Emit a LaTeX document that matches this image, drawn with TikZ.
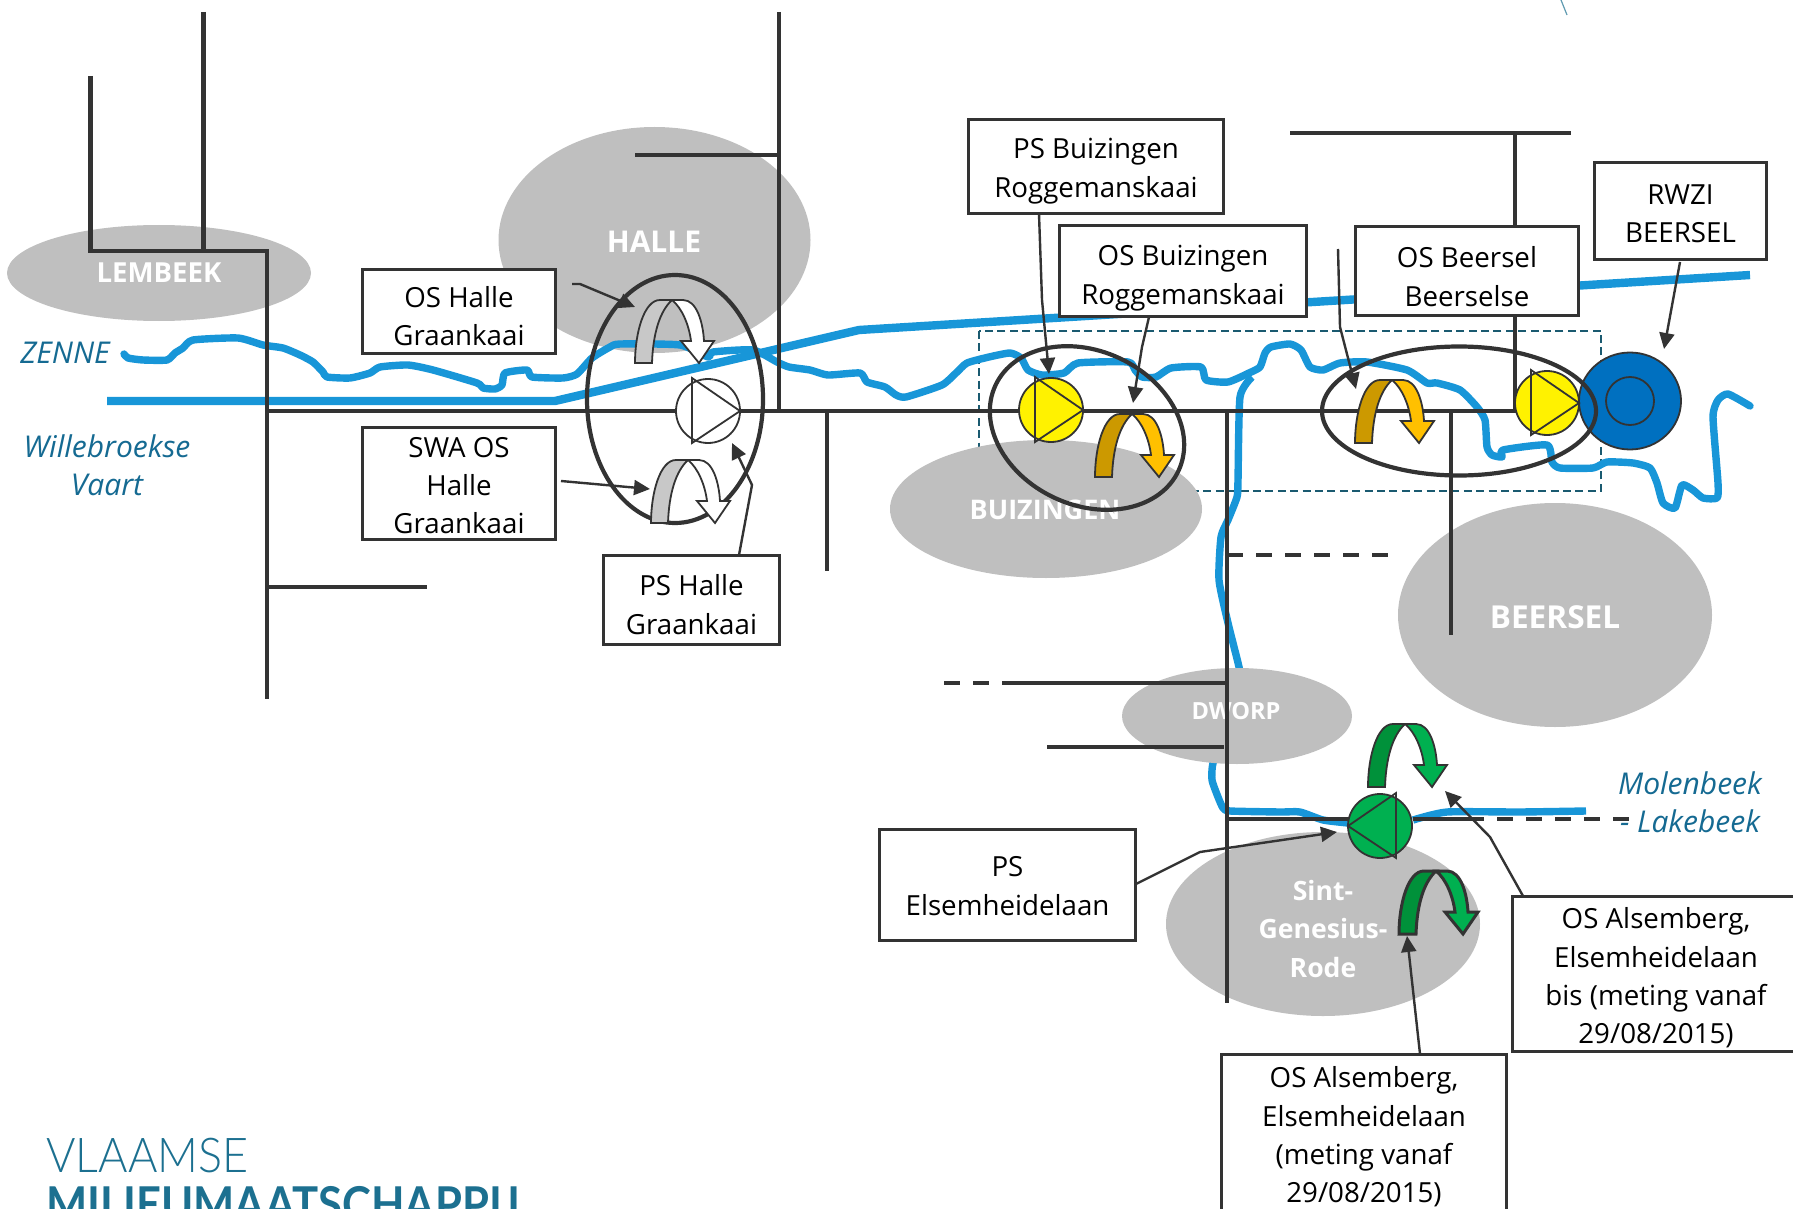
\documentclass[tikz,border=0pt]{standalone}
\usepackage{fontspec}
\setmainfont{Open Sans}
\newfontfamily\logolight{Lato Light}
\newfontfamily\logobold{Lato}[BoldFont={Lato Bold}]
\usetikzlibrary{arrows.meta}
\definecolor{riverblue}{HTML}{1896D8}
\definecolor{ink}{HTML}{333333}
\definecolor{zonegrey}{HTML}{BFBFBF}
\definecolor{labelblue}{HTML}{156A92}
\definecolor{dashteal}{HTML}{1A5A70}
\definecolor{logoteal}{HTML}{1C7090}
\definecolor{rwziblue}{HTML}{0070C0}
\definecolor{orangeD}{HTML}{CC9900}
\definecolor{orangeL}{HTML}{FFC000}
\definecolor{greenD}{HTML}{00913A}
\definecolor{greenL}{HTML}{00B050}
\definecolor{greyD}{HTML}{C8C8C8}
\tikzset{
 zone/.style={fill=zonegrey,draw=none},
 zonetext/.style={text=white,align=center,inner sep=0pt},
 pipe/.style={draw=ink,line width=2.3pt},
 pipedash/.style={pipe,dash pattern=on 8pt off 6.5pt},
 river/.style={draw=riverblue,line width=3.7pt,line join=round,line cap=round},
 canal/.style={draw=riverblue,line width=4.2pt},
 blackring/.style={draw=ink,line width=2.1pt},
 labelbox/.style={draw=ink,fill=white,line width=1.3pt,inner sep=0pt},
 boxtext/.style={inner sep=0pt,align=center,text=black,font=\fontsize{13.85}{19.2}\selectfont},
 leader/.style={draw=ink,line width=1.2pt,-{Triangle[length=8pt,width=7.5pt]}},
 uline/.style={draw=ink,line width=0.9pt,line join=miter},
 watertext/.style={text=labelblue,font=\itshape\fontsize{15}{19.2}\selectfont,align=center,inner sep=0pt},
}
\newcommand\uturn[5]{%
 \begin{scope}[shift={(#1)},uline/.append style={line width=#4pt}]
 \filldraw[uline,fill=#2] (0,0) -- (17,0) .. controls (18,-30) and (25,-52) .. (37,-63) -- (25,-63) .. controls (9,-63) and (0,-30) .. (0,0) -- cycle;
 \filldraw[uline,fill=#3] (37,-63) -- (48,-63) .. controls (62,-63) and (68,-40) .. (69,-22) -- (79,-22) -- (64,0) -- (46,-22) -- (56,-22) .. controls (54,-38) and (47,-55) .. (37,-63) -- cycle;
 \end{scope}}
\newcommand\pump[3]{%
 \begin{scope}[shift={(#1)}]
 \filldraw[uline,fill=#2] (0,0) circle [radius=32];
 \draw[uline,line join=miter] (-16*#3,-33) -- (-16*#3,32) -- (32*#3,0) -- cycle;
 \end{scope}}
\newcommand\bx[7]{\node[labelbox,minimum width=(#4-1)*0.5pt,minimum height=(#5-1)*0.5pt,label={[boxtext,yshift=-#7*0.5pt]center:{#6}}] (#1) at (#2,#3) {};}
\begin{document}
\begin{tikzpicture}[x=0.5pt,y=-0.5pt]
\useasboundingbox (0,0) rectangle (1793,1209);
\begin{scope}
\clip (0,0) rectangle (1793,1209);
% dashed zone
\draw[dashteal,line width=0.95pt,dash pattern=on 4pt off 2.2pt] (979,331) rectangle (1601,491);
% grey zones
\fill[zone] (159,273) ellipse [x radius=152,y radius=48];
\fill[zone] (654.5,240) ellipse [x radius=156,y radius=113];
\fill[zone] (1046,509) ellipse [x radius=156,y radius=69];
\fill[zone] (1555,615) ellipse [x radius=157,y radius=112];
\fill[zone] (1323,924) ellipse [x radius=157,y radius=92];
\node[zonetext,font=\bfseries\fontsize{13.8}{19}\selectfont] (lembeek) at (159,273) {LEMBEEK};
\node[zonetext,font=\bfseries\fontsize{15}{19}\selectfont] (halle) at (654,242) {HALLE};
\node[zonetext,font=\bfseries\fontsize{13.5}{19}\selectfont] (buizingen) at (1045,510) {BUIZINGEN};
\node[zonetext,font=\bfseries\fontsize{15.8}{19}\selectfont] (beersel) at (1555,617) {BEERSEL};
\node[zonetext,font=\bfseries\fontsize{13.3}{19.2}\selectfont] (sgr) at (1323,929) {Sint-\\Genesius-\\Rode};
% water
\draw[canal] (107,401) -- (555,401) -- (859,330) -- (1750,275);
\draw[river] plot[smooth,tension=0.35] coordinates {(124,354) (128,358) (143,360) (167,360) (175,353) (183,348) (193,340) (238,338) (263,345) (283,348) (300,355) (313,362) (323,372) (327,377) (350,378) (370,373) (380,367) (408,365) (433,370) (477,383) (483,388) (495,389) (502,385) (505,373) (527,370) (532,377) (563,378) (577,374) (592,358) (610,347) (620,344) (680,345) (708,357) (713,352) (753,350) (777,362) (789,367) (810,370) (828,375) (860,373) (867,382) (885,387) (896,395) (906,397) (942,385) (956,373) (967,363) (989,357) (1010,353) (1021,358) (1028,370) (1042,375) (1064,373) (1078,363) (1128,362) (1135,370) (1142,377) (1156,377) (1171,368) (1201,367) (1206,380) (1228,382) (1249,373) (1260,367) (1265,353) (1271,347) (1290,344) (1301,350) (1310,367) (1323,370) (1340,363) (1367,362) (1407,370) (1427,383) (1437,383) (1460,390) (1477,407) (1485,420) (1487,447) (1492,455) (1502,457) (1503,450) (1547,445) (1552,462) (1560,468) (1593,468) (1607,462) (1633,463) (1650,468) (1657,483) (1663,503) (1675,508) (1682,485) (1693,490) (1703,498) (1717,498) (1718,483) (1713,417) (1718,400) (1728,394) (1750,406)};
\draw[river,line cap=butt] plot[smooth,tension=0.35] coordinates {(1252,377) (1240,397) (1238,480) (1237,497) (1228,520) (1221,537) (1219,580) (1228,623) (1239,667) (1245,700) (1225,730) (1213,763) (1212,780) (1218,797) (1223,808) (1230,811) (1280,812) (1300,812) (1323,820) (1348,823)};
\draw[river,line cap=butt] plot[smooth,tension=0.35] coordinates {(1413,820) (1447,812) (1520,812) (1586,811)};
% Dworp zone sits over the stream
\fill[zone] (1237,716) ellipse [x radius=115,y radius=48];
\node[zonetext,font=\bfseries\fontsize{11.8}{15}\selectfont] (dworp) at (1236,711) {DWORP};
% sewer lines
\draw[pipe] (90.5,76) -- (90.5,251) -- (267,251) -- (267,699);
\draw[pipe] (203.5,12) -- (203.5,251);
\draw[pipe] (267,411) -- (1515,411) -- (1515,133);
\draw[pipe] (1290,133) -- (1571,133);
\draw[pipe] (267,587) -- (427,587);
\draw[pipe] (779,12) -- (779,411);
\draw[pipe] (635,155) -- (779,155);
\draw[pipe] (827,411) -- (827,571);
\draw[pipe] (1227,411) -- (1227,1003);
\draw[pipe] (1451,411) -- (1451,635);
\draw[pipedash] (1227,555) -- (1390,555);
\draw[pipedash] (944,683) -- (990,683);
\draw[pipe] (1002,683) -- (1227,683);
\draw[pipe] (1047,747) -- (1224,747);
\draw[pipe] (1227,819) -- (1350,819);
\draw[pipe] (1413,819) -- (1484,819);
\draw[pipedash] (1497,819) -- (1629,819);
% treatment plant
\filldraw[uline,fill=rwziblue] (1630,401) ellipse [x radius=51,y radius=48.5];
\draw[uline] (1630,401) circle [radius=24];
% rings
\draw[blackring] (675,399) ellipse [x radius=88,y radius=124];
\draw[blackring,rotate around={-25:(1087,428)}] (1087,428) ellipse [x radius=101,y radius=77];
\draw[blackring] (1459,411) ellipse [x radius=137,y radius=64.5];
% overflows
\uturn{635,363}{greyD}{white}{0.9}{}
\uturn{651,523}{greyD}{white}{0.9}{}
\uturn{1095,477}{orangeD}{orangeL}{0.9}{}
\uturn{1355,443}{orangeD}{orangeL}{0.9}{}
\uturn{1368,787}{greenD}{greenL}{0.9}{}
\uturn{1399,934}{greenD}{greenL}{1.5}{}
% pumps
\pump{708,411}{white}{1}
\pump{1051,410}{yellow}{1}
\pump{1547,403}{yellow}{1}
\pump{1380,826}{greenL}{-1}
% water labels
\node[watertext] (zenne) at (65,353) {ZENNE};
\node[watertext] (vaart) at (107,465) {Willebroekse\\Vaart};
\node[watertext] (molen) at (1690,802) {Molenbeek\\- Lakebeek};
% boxes
\bx{oshalle}{459}{311.5}{194}{85}{OS Halle\\Graankaai}{4.5}
\bx{swahalle}{459}{483.5}{194}{113}{SWA OS\\Halle\\Graankaai}{2}
\bx{pshalle}{691.5}{600}{177}{90}{PS Halle\\Graankaai}{4.5}
\bx{psbuiz}{1096}{166.5}{256}{95}{PS Buizingen\\Roggemanskaai}{4.5}
\bx{osbuiz}{1183}{271}{248}{92}{OS Buizingen\\Roggemanskaai}{7}
\bx{osbeersel}{1467}{271}{224}{90}{OS Beersel\\Beerselse}{5.5}
\bx{rwzi}{1680.5}{211}{173}{98}{RWZI\\BEERSEL}{2.5}
\bx{pselsem}{1007.5}{885}{257}{112}{PS\\Elsemheidelaan}{1}
\bx{osbis}{1656}{974}{288}{156}{OS Alsemberg,\\Elsemheidelaan\\bis (meting vanaf\\29/08/2015)}{4}
\bx{osals}{1364}{1133.5}{286}{159}{OS Alsemberg,\\Elsemheidelaan\\(meting vanaf\\29/08/2015)}{3.5}
% leaders
\coordinate (a1) at (572,284); \coordinate (a1m) at (580,284); \coordinate (a1t) at (635,307);
\coordinate (a2) at (561,481); \coordinate (a2t) at (650,489);
\coordinate (a3) at (739,555); \coordinate (a3m) at (752,485); \coordinate (a3t) at (732,443);
\coordinate (a4) at (1039,214); \coordinate (a4m) at (1042,300); \coordinate (a4t) at (1049,374);
\coordinate (a5) at (1149,317); \coordinate (a5m) at (1142,347); \coordinate (a5t) at (1133,403);
\coordinate (a6) at (1338,249); \coordinate (a6m) at (1340,327); \coordinate (a6t) at (1356,389);
\coordinate (a7) at (1680,262); \coordinate (a7t) at (1664,349);
\coordinate (a8) at (1136,884); \coordinate (a8m) at (1200,852); \coordinate (a8t) at (1337,832);
\coordinate (a9) at (1523,896); \coordinate (a9m) at (1490,837); \coordinate (a9t) at (1445,791);
\coordinate (a10) at (1420,1054); \coordinate (a10t) at (1407,936);
\draw[leader] (a1) -- (a1m) -- (a1t);
\draw[leader] (a2) -- (a2t);
\draw[leader] (a3) -- (a3m) -- (a3t);
\draw[leader] (a4) -- (a4m) -- (a4t);
\draw[leader] (a5) -- (a5m) -- (a5t);
\draw[leader] (a6) -- (a6m) -- (a6t);
\draw[leader] (a7) -- (a7t);
\draw[leader] (a8) -- (a8m) -- (a8t);
\draw[leader] (a9) -- (a9m) -- (a9t);
\draw[leader] (a10) -- (a10t);
% logo
\node[anchor=base west,inner sep=0pt,text=logoteal,font=\logolight\fontsize{24}{24}\selectfont] (logo1) at (46,1172) {\scalebox{0.936}[1]{VLAAMSE}};
\node[anchor=base west,inner sep=0pt,text=logoteal,font=\logobold\bfseries\fontsize{24}{24}\selectfont] (logo2) at (46,1221) {\scalebox{0.908}[1]{MILIEUMAATSCHAPPIJ}};
\coordinate (tick1) at (1561,0); \coordinate (tick2) at (1567,15);
\draw[color=logoteal!70,line width=0.6pt] (tick1) -- (tick2);
\end{scope}
\end{tikzpicture}
\end{document}
